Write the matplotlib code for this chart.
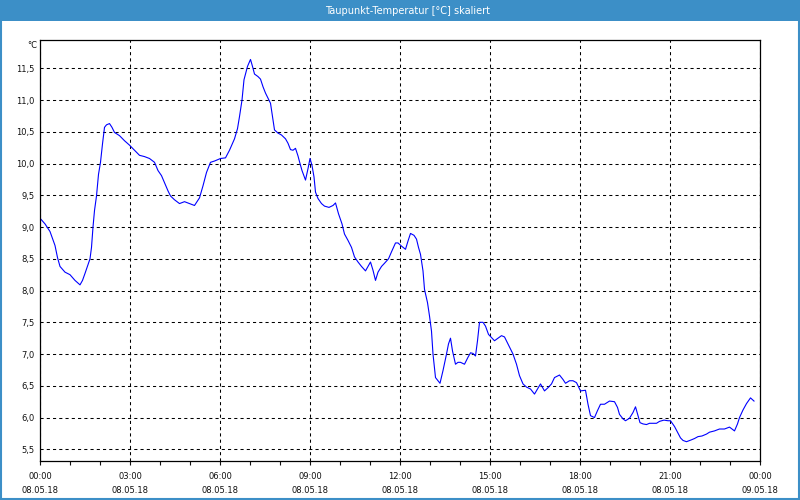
import numpy as np
import matplotlib
matplotlib.use('Agg')
import matplotlib.pyplot as plt
from matplotlib.patches import Rectangle

# Taupunkt readings, minutes after 08.05.18 00:00
minutes = [0, 10, 20, 30, 35, 40, 50, 60, 70, 80, 85, 90, 100, 103, 106, 109, 113, 117,
           121, 125, 129, 133, 139, 144, 149, 159, 169, 179, 189, 199, 209, 219, 229, 236,
           243, 249, 256, 261, 269, 279, 289, 299, 309, 319, 326, 333, 341, 349, 361,
           371, 379, 389, 395, 399, 404, 408, 415, 421, 425, 429, 436, 441, 446, 451, 456,
           461, 465, 469, 476, 483, 491, 496, 501, 506, 511, 516, 519, 524, 531, 536, 540,
           544, 548, 551, 556, 563, 569, 578, 586, 591, 597, 604, 609, 616, 623, 629, 636,
           643, 651, 656, 661, 666, 671, 676, 683, 689, 697, 703, 711, 716,
           723, 731, 736, 741, 748, 753, 757, 761, 766, 769, 775, 779, 783, 786, 791, 795,
           800, 806, 813, 817, 821, 825, 831, 836, 841, 849, 856, 861, 866, 871, 875, 879,
           886, 891, 897, 903, 909, 916, 923, 929, 936, 946, 953, 959, 966, 973, 981, 989,
           995, 1001, 1009, 1016, 1023, 1029, 1039, 1046, 1051, 1059, 1066, 1073, 1081,
           1091, 1096, 1101, 1109, 1115, 1121, 1129, 1139, 1149, 1155, 1159, 1166, 1171,
           1179, 1186, 1191, 1196, 1200, 1206, 1213, 1219, 1233, 1239, 1248, 1256, 1261,
           1269, 1275, 1281, 1286, 1293, 1303, 1309, 1316, 1324, 1333, 1339, 1349, 1359,
           1369, 1379, 1389, 1395, 1399, 1406, 1413, 1421, 1428]
taupunkt = [9.14, 9.05, 8.93, 8.71, 8.52, 8.38, 8.29, 8.25, 8.16, 8.09, 8.16, 8.27, 8.50, 8.68,
            9.00, 9.26, 9.49, 9.83, 10.02, 10.31, 10.57, 10.61, 10.63, 10.57, 10.49, 10.44,
            10.36, 10.29, 10.21, 10.13, 10.11, 10.08, 10.02, 9.89, 9.81, 9.70, 9.57, 9.49,
            9.43, 9.37, 9.40, 9.37, 9.34, 9.46, 9.65, 9.86, 10.02, 10.04, 10.08,
            10.09, 10.21, 10.39, 10.55, 10.74, 11.00, 11.32, 11.53, 11.64, 11.53, 11.41,
            11.37, 11.33, 11.21, 11.11, 11.03, 10.95, 10.74, 10.53, 10.48, 10.45, 10.39,
            10.32, 10.22, 10.21, 10.24, 10.12, 10.03, 9.89, 9.74, 9.92, 10.08, 9.97, 9.79,
            9.55, 9.45, 9.37, 9.33, 9.31, 9.34, 9.38, 9.21, 9.05, 8.89, 8.79, 8.68, 8.53,
            8.45, 8.38, 8.31, 8.38, 8.45, 8.32, 8.16, 8.29, 8.38, 8.43, 8.50, 8.61, 8.75, 8.75,
            8.70, 8.65, 8.78, 8.90, 8.87, 8.81, 8.68, 8.57, 8.31, 8.02, 7.81, 7.60, 7.36,
            7.00, 6.63, 6.59, 6.54, 6.74, 7.00, 7.16, 7.25, 7.05, 6.84, 6.87, 6.87, 6.84,
            6.95, 7.02, 7.01, 6.97, 7.21, 7.50, 7.50, 7.44, 7.31, 7.26, 7.21, 7.25, 7.29,
            7.27, 7.16, 7.00, 6.84, 6.66, 6.53, 6.48, 6.45, 6.37, 6.45, 6.53, 6.42, 6.47,
            6.53, 6.63, 6.67, 6.60, 6.54, 6.58, 6.58, 6.55, 6.42,
            6.43, 6.21, 6.03, 6.00, 6.11, 6.21, 6.21, 6.26, 6.25, 6.16, 6.05, 5.98, 5.95,
            5.99, 6.08, 6.17, 6.03, 5.92, 5.90, 5.89, 5.91, 5.91, 5.94, 5.96, 5.95, 5.95,
            5.86, 5.77, 5.68, 5.64, 5.62, 5.65, 5.67, 5.70, 5.71, 5.74, 5.77, 5.79, 5.82,
            5.82, 5.85, 5.79, 5.90, 6.00, 6.12, 6.22, 6.31, 6.26]

tick_times = ['00:00', '03:00', '06:00', '09:00', '12:00', '15:00', '18:00', '21:00', '00:00']
tick_dates = ['08.05.18'] * 8 + ['09.05.18']
y_ticks = [5.5, 6.0, 6.5, 7.0, 7.5, 8.0, 8.5, 9.0, 9.5, 10.0, 10.5, 11.0, 11.5]

blue_bar = '#3c8fc7'
plt.rcParams['font.family'] = ['DejaVu Sans']

fig = plt.figure(figsize=(8, 5), dpi=100, facecolor='white')
# window frame and title bar
fig.patches.append(Rectangle((0, 0.959), 1, 0.041, transform=fig.transFigure,
                             facecolor=blue_bar, edgecolor='none', zorder=0))
fig.patches.append(Rectangle((0.001, 0.002), 0.998, 0.996, transform=fig.transFigure,
                             facecolor='none', edgecolor=blue_bar, lw=1.5, zorder=1))
fig.text(0.51, 0.979, 'Taupunkt-Temperatur [°C] skaliert', color='white',
         ha='center', va='center', fontsize=7)

ax = fig.add_axes([0.05, 0.079, 0.90, 0.841])
hours = np.array(minutes) / 60.0
ax.plot(hours, taupunkt, color='#0000ff', lw=0.8)

ax.set_xlim(0, 24)
ax.set_ylim(5.324, 11.946)
ax.set_xticks(np.arange(0, 25, 3))
ax.set_xticks(np.arange(0, 25, 1), minor=True)
ax.set_xticklabels([t + '\n' + d for t, d in zip(tick_times, tick_dates)], fontsize=6)
for lab in ax.get_xticklabels():
    lab.set_linespacing(1.75)
ax.set_yticks(y_ticks)
ax.set_yticklabels([('%.1f' % v).replace('.', ',') for v in y_ticks], fontsize=6)

ax.tick_params(axis='x', which='both', direction='out', length=3, width=0.8, pad=5,
               colors='#111111')
ax.tick_params(axis='y', length=0, pad=4, colors='#111111')
ax.grid(True, which='major', color='black', linestyle=(0, (3, 3)), lw=0.75)
for s in ax.spines.values():
    s.set_color('black')
    s.set_linewidth(0.9)

fig.text(0.047, 0.91, '°C', ha='right', va='center', fontsize=6, color='#111111')

fig.savefig('out.png', dpi=100, facecolor=fig.get_facecolor())
